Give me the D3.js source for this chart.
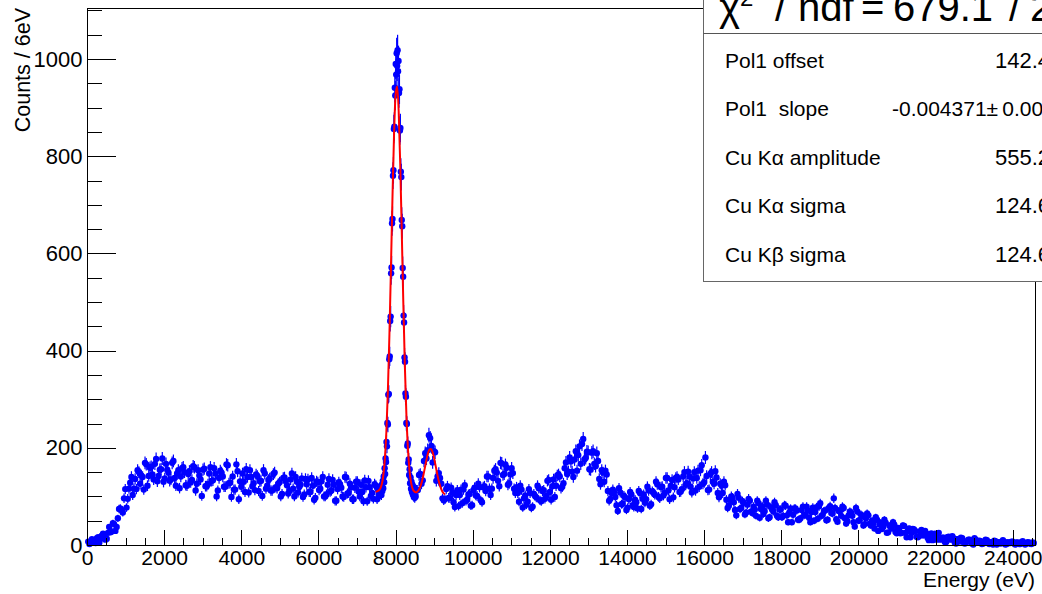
<!DOCTYPE html>
<html><head><meta charset="utf-8">
<script src="https://cdn.jsdelivr.net/npm/d3@7"></script>
<style>html,body{margin:0;padding:0;background:#fff;overflow:hidden}
text{font-family:"Liberation Sans",Arial,Helvetica,sans-serif;fill:#000}</style>
</head><body>
<svg id="c" width="1042" height="594"></svg>
<script>
// ---- data (counts per 6 eV bin) ----
const binStartA = 32, binStartB = 64, binStep = 64;   // two interleaved samplings of bin centres (eV)
const countsA = [
7,4,9,4,16,13,23,11,25,26,
45,29,55,75,67,115,95,128,103,136,
154,126,140,169,122,159,145,167,131,155,
178,137,155,132,169,138,147,117,158,150,
122,152,134,160,126,143,101,157,121,147,
132,158,100,138,149,120,166,127,99,114,
166,94,120,130,156,108,140,127,145,111,
132,154,116,134,112,146,119,126,100,138,
132,106,135,116,140,108,124,99,136,135,
109,122,97,129,116,140,100,124,110,134,
91,115,125,100,140,106,126,94,118,130,
100,109,133,90,119,107,125,94,
null,null,null,null,null,null,null,null,null,null,null,null,null,null,null,
113,144,126,173,178,226,204,
193,132,148,126,92,115,97,118,88,103,
80,114,114,91,104,81,113,102,126,92,
119,111,141,103,138,156,132,169,144,165,
124,145,148,107,107,122,77,102,89,107,
79,101,122,92,111,95,132,109,121,99,
143,141,120,158,146,180,151,176,153,203,
208,176,192,156,190,167,189,136,154,130,
145,91,107,109,82,117,84,101,72,94,
104,78,88,111,74,104,94,112,84,107,
130,99,119,102,138,112,122,98,138,135,
110,141,124,151,120,137,112,153,154,126,
180,113,146,130,152,107,126,107,123,76,
93,97,72,105,74,90,63,83,91,66,
73,91,56,80,70,83,57,73,88,60,
73,57,82,61,67,47,75,71,52,72,
61,79,56,68,50,78,79,60,70,51,
76,66,96,53,70,60,76,44,61,67,
47,76,50,63,40,55,61,40,44,57,
29,46,37,46,26,37,47,27,35,24,
40,25,29,16,33,29,16,28,20,29,
15,20,10,23,22,11,15,6,16,12,
18,5,12,7,14,3,8,11,3,14,
5,9,2,7,10,2,5,9,1,6,
4,7,2,4,7,3,5,2,6,4,
3,5,2,4
];
const countsB = [
2,12,8,14,5,19,17,13,37,28,
43,37,74,72,96,77,116,140,116,115,
150,143,114,166,142,161,135,177,142,156,
130,167,149,135,173,122,154,141,160,123,
146,129,162,112,154,135,155,121,125,160,
133,147,112,153,141,120,164,128,141,114,
152,131,147,109,140,154,121,113,142,131,
101,147,122,137,112,149,117,129,105,139,
123,111,147,100,130,120,137,104,125,109,
138,93,131,113,131,100,104,136,112,124,
91,129,118,99,139,107,119,94,130,110,
124,90,119,132,101,95,122,112,
null,null,null,null,null,null,null,null,null,null,null,null,null,null,null,
113,146,133,189,195,220,170,
191,141,138,96,94,121,97,108,78,113,
103,86,123,93,105,82,118,101,119,88,
121,141,116,116,153,149,121,168,146,159,
127,158,116,119,89,114,96,83,115,76,
105,98,117,90,113,101,134,93,135,122,
145,117,127,170,151,172,140,193,185,167,
218,179,191,155,193,162,173,125,149,153,
111,95,114,99,70,108,85,98,77,109,
82,93,75,107,95,87,120,81,110,104,
125,96,120,107,138,94,134,119,140,109,
115,150,127,141,108,150,138,120,164,129,
142,114,150,126,139,98,123,130,93,81,
100,88,61,97,76,87,67,95,69,79,
60,86,74,64,91,55,78,69,82,57,
73,60,81,47,75,62,75,52,55,79,
62,71,47,77,68,54,86,62,71,52,
80,65,76,48,70,79,55,49,69,60,
38,69,51,60,43,65,44,50,34,52,
42,33,52,25,40,34,42,24,34,25,
39,16,34,25,32,17,18,31,20,24,
10,24,19,11,25,12,15,6,17,11,
14,3,12,15,6,4,11,8,1,11,
6,8,3,11,4,6,1,8,5,3,
10,1,6,4,7,1,5,2,8,1,
6,3,5
];
const peakStart = 7560, peakStep = 12;  // Cu K-alpha region, finer sampling
const peakCounts = [
104,116,101,118,107,121,103,124,111,132,
117,141,129,158,146,178,171,212,203,251,
248,309,311,382,388,461,470,559,571,662,
671,760,771,856,861,941,925,990,968,1012,
986,1018,975,996,930,938,853,858,768,757,
669,656,570,552,472,458,386,377,312,305,
251,249,204,209,169,176,144,156,127,139,
116,130,109,124,104,118,99,113,97,115,
100
];
const fitStart = 7480, fitStep = 40;   // red fit curve
const fitCounts = [
109.6,110.4,112,115.5,124.3,142.2,175.6,231.9,317.2,432.9,
572.3,718.1,845.4,926.4,943.6,892.5,784.9,644.8,499.0,369.5,
268.8,198.2,153.9,128.8,115.8,110.6,108.3,109.7,113.3,120.0,
130.2,143.6,159.3,175.2,188.7,196.7,197.5,190.8,178.2,162.2,
145.8,131.3,120.1,112.1,107.0,104.0
];
const xTicks = [0,2000,4000,6000,8000,10000,12000,14000,16000,18000,20000,22000,24000];
const yTicks = [0,200,400,600,800,1000];
const statNames = ["Pol1 offset","Pol1  slope","Cu K\u03b1 amplitude","Cu K\u03b1 sigma","Cu K\u03b2 sigma"];
const statValues = ["142.4\u00b10.6","-0.004371\u00b1\u20090.000052","555.2\u00b14.1","124.6\u00b11.0","124.6\u00b11.0"];
const chiParts = ["/", "ndf", "=", "679.1", "/", "2"];

// ---- drawing ----
const svg = d3.select("#c");
const L = 87, R = 1035, T = 8, B = 545;
const x = d3.scaleLinear().domain([0, 24576]).range([L, R]);
const y = d3.scaleLinear().domain([0, 1105]).range([B, T]);

const pts = [];
countsA.forEach((c, i) => { if (c !== null) pts.push({e: binStartA + i * binStep, c}); });
countsB.forEach((c, i) => { if (c !== null) pts.push({e: binStartB + i * binStep, c}); });
peakCounts.forEach((c, i) => pts.push({e: peakStart + i * peakStep, c}));

const g = svg.append("g");
g.selectAll("line.err").data(pts).enter().append("line")
  .attr("x1", d => x(d.e)).attr("x2", d => x(d.e))
  .attr("y1", d => y(d.c + Math.sqrt(d.c))).attr("y2", d => y(Math.max(0, d.c - Math.sqrt(d.c))))
  .attr("stroke", "#0000ff").attr("stroke-width", 1.2);
g.selectAll("circle").data(pts).enter().append("circle")
  .attr("cx", d => x(d.e)).attr("cy", d => y(d.c)).attr("r", 3.2)
  .attr("fill", "#0000ff");
const fitPts = fitCounts.map((c, i) => ({e: fitStart + i * fitStep, c}));
g.append("path").datum(fitPts)
  .attr("d", d3.line().x(d => x(d.e)).y(d => y(d.c)).curve(d3.curveMonotoneX))
  .attr("fill", "none").attr("stroke", "#ff0000").attr("stroke-width", 2);

// frame
svg.append("rect").attr("x", L + 0.5).attr("y", T + 0.5).attr("width", R - L).attr("height", B - T)
  .attr("fill", "none").attr("stroke", "#000").attr("stroke-width", 1);

// axes
const minorX = d3.range(0, 24577, 500).filter(v => v % 2000 !== 0);
svg.append("g").attr("class", "xa").attr("transform", `translate(0,${B + 0.5})`)
  .call(d3.axisBottom(x).tickValues(xTicks).tickFormat(d3.format("d"))
    .tickSizeInner(-16).tickSizeOuter(0).tickPadding(5));
svg.append("g").attr("transform", `translate(0,${B + 0.5})`)
  .call(d3.axisBottom(x).tickValues(minorX).tickFormat("").tickSizeInner(-8).tickSizeOuter(0));
const minorY = d3.range(0, 1101, 50).filter(v => v % 200 !== 0);
svg.append("g").attr("class", "ya").attr("transform", `translate(${L + 0.5},0)`)
  .call(d3.axisLeft(y).tickValues(yTicks).tickFormat(d3.format("d"))
    .tickSizeInner(-28).tickSizeOuter(0).tickPadding(5));
svg.append("g").attr("transform", `translate(${L + 0.5},0)`)
  .call(d3.axisLeft(y).tickValues(minorY).tickFormat("").tickSizeInner(-14).tickSizeOuter(0));
svg.selectAll(".domain").remove();
svg.selectAll(".tick line").attr("stroke", "#000").attr("shape-rendering", "crispEdges");
svg.selectAll(".tick text").style("font-family", '"Liberation Sans",Arial,sans-serif').attr("fill", "#000");
svg.selectAll(".xa .tick text").style("font-size", "21px");
svg.selectAll(".ya .tick text").style("font-size", "22px");

// axis titles
svg.append("text").attr("x", R).attr("y", 587).attr("text-anchor", "end")
  .style("font-size", "21px").text("Energy (eV)");
svg.append("text").attr("transform", "translate(30,8) rotate(-90)").attr("text-anchor", "end")
  .style("font-size", "21.5px").text("Counts / 6eV");

// stats box
const sb = svg.append("g");
sb.append("rect").attr("x", 703.5).attr("y", -5).attr("width", 400).attr("height", 286.5)
  .attr("fill", "#fff").attr("stroke", "#666").attr("stroke-width", 1);
sb.append("line").attr("x1", 703.5).attr("x2", 1042).attr("y1", 33.5).attr("y2", 33.5)
  .attr("stroke", "#555").attr("stroke-width", 1);
const tt = sb.append("text").attr("y", 21).style("font-size", "40px");
tt.append("tspan").attr("x", 719).text("\u03c7");
tt.append("tspan").attr("dy", -15).style("font-size", "24px").text("2");
const chiX = [775, 798, 861, 893, 1009, 1030];
chiParts.forEach((p, i) => tt.append("tspan").attr("x", chiX[i]).attr("y", 21).text(p));
const rowY = [68, 116, 165, 213, 262];
const valX = [995, 892, 995, 995, 995];
statNames.forEach((n, i) => {
  sb.append("text").attr("x", 725).attr("y", rowY[i]).style("font-size", "21px")
    .style("white-space", "pre").text(n);
  sb.append("text").attr("x", valX[i]).attr("y", rowY[i]).style("font-size", i === 1 ? "21px" : "22px")
    .text(statValues[i]);
});
</script>
</body></html>
